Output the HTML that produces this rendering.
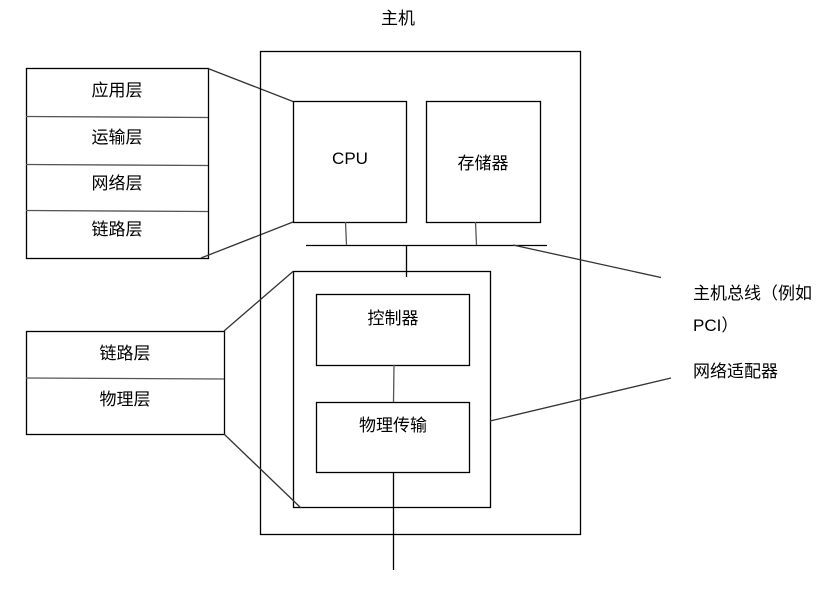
<!DOCTYPE html>
<html><head><meta charset="utf-8"><style>
html,body{margin:0;padding:0;background:#fff;}
svg{display:block;}
text{font-family:"Liberation Sans","Noto Sans CJK SC",sans-serif;font-size:17px;fill:#000;}
</style></head><body>
<svg width="830" height="595" viewBox="0 0 830 595" xmlns="http://www.w3.org/2000/svg">
<g fill="none" stroke="#000" stroke-width="1.3">
<rect x="26.5" y="68.5" width="182" height="190"/>
<line x1="26" y1="116.5" x2="208" y2="117.5" stroke="#555"/>
<line x1="26" y1="164.5" x2="208" y2="165.5" stroke="#555"/>
<line x1="26" y1="210.5" x2="208" y2="211.5" stroke="#555"/>
<line x1="208" y1="68.5" x2="293" y2="101.5" stroke="#333"/>
<line x1="293" y1="222" x2="201" y2="258" stroke="#333"/>
<rect x="260.5" y="51.5" width="320" height="483"/>
<rect x="293.5" y="101.5" width="113" height="121"/>
<rect x="426.5" y="101.5" width="114" height="121"/>
<line x1="306" y1="245.5" x2="547" y2="245.5"/>
<line x1="345.5" y1="222" x2="346.5" y2="245" stroke="#555"/>
<line x1="475.5" y1="222" x2="476.5" y2="245" stroke="#555"/>
<line x1="406.5" y1="245" x2="406.5" y2="277"/>
<line x1="513" y1="245" x2="661" y2="277.5" stroke="#333"/>
<rect x="293.5" y="271.5" width="197" height="236"/>
<rect x="316.5" y="294.5" width="153" height="71"/>
<rect x="316.5" y="402.5" width="153" height="70"/>
<line x1="394" y1="365" x2="393.5" y2="402" stroke="#555"/>
<line x1="393.5" y1="472" x2="393.5" y2="570"/>
<line x1="490" y1="421" x2="671" y2="378" stroke="#333"/>
<rect x="26.5" y="331.5" width="198" height="103"/>
<line x1="26" y1="378" x2="224" y2="379" stroke="#555"/>
<line x1="224" y1="331" x2="293" y2="271.5" stroke="#333"/>
<line x1="224" y1="434" x2="301" y2="508" stroke="#333"/>
</g>
<g text-anchor="middle">
<text x="398" y="24">主机</text>
<text x="117" y="96">应用层</text>
<text x="117" y="143">运输层</text>
<text x="117" y="189">网络层</text>
<text x="117" y="235">链路层</text>
<text x="350" y="164">CPU</text>
<text x="483" y="169">存储器</text>
<text x="393" y="324">控制器</text>
<text x="393" y="431">物理传输</text>
<text x="125" y="359">链路层</text>
<text x="125" y="405">物理层</text>
</g>
<text x="693" y="299">主机总线（例如</text>
<text x="693" y="331">PCI）</text>
<text x="693" y="377">网络适配器</text>
</svg>
</body></html>
